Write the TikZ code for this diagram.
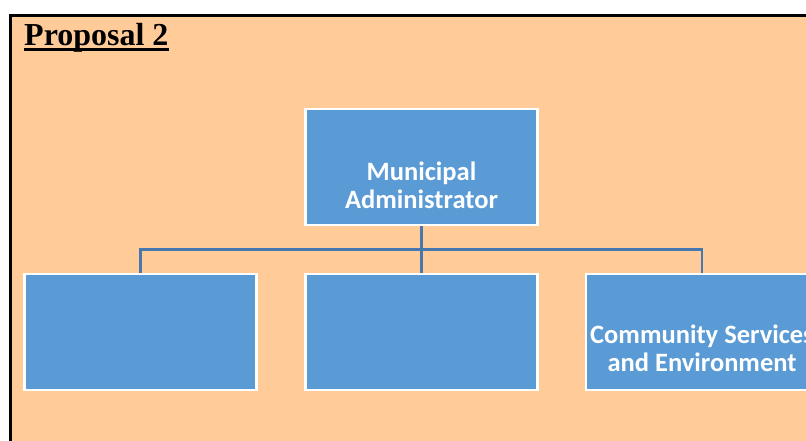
\documentclass[tikz,border=0pt]{standalone}
\usepackage{fontspec}
\setmainfont{Liberation Serif}
\newfontfamily\boxfont{Carlito}
\definecolor{peach}{HTML}{FFCC99}
\definecolor{orgblue}{HTML}{5B9BD5}
\definecolor{linkblue}{HTML}{4677AE}
\tikzset{
  orgbox/.style={rectangle, draw=white, line width=2.5pt, fill=orgblue,
    minimum width=232pt, minimum height=116pt, inner sep=0pt},
  orglabel/.style={text=white, align=center, inner sep=0pt,
    font=\boxfont\bfseries\fontsize{26.5}{28.5}\selectfont},
  link/.style={draw=linkblue, line width=2.8pt}
}
\begin{document}
\begin{tikzpicture}[x=1pt, y=-1pt]
  \useasboundingbox (0,0) rectangle (806,440);
  \clip (0,0) rectangle (806,440);
  \fill[white] (0,0) rectangle (806,440);
  % page frame
  \draw[black, line width=2.6pt, fill=peach] (10.3,15.3) rectangle (830,470);
  % heading
  \node[anchor=base west, inner sep=0pt, font=\bfseries\fontsize{32}{36}\selectfont] (title) at (24,45) {Proposal 2};
  \draw[black, line width=2.8pt] (title.base west) ++(0,4.8) -- ([yshift=-4.8pt]title.base east);
  % connector hub
  \coordinate (hub) at (421.5,249.5);
  % boxes
  \node[orgbox] (mun) at (421.5,167) {};
  \node[orgbox] (b1) at (140.5,332) {};
  \node[orgbox] (b2) at (421.5,332) {};
  \node[orgbox] (b3) at (702,332) {};
  % connectors
  \draw[link] (mun.south) -- (b2.north);
  \draw[link] (b1.north) |- (hub) -| (b3.north);
  \node[orgbox] at (mun) {};
  \node[orgbox] at (b1) {};
  \node[orgbox] at (b2) {};
  \node[orgbox] at (b3) {};
  % labels
  \node[orglabel] (munlabel) at (421.5,185.3) {Municipal\\Administrator};
  \node[orglabel] (b3label) at (702,348.5) {Community Services\\and Environment};
\end{tikzpicture}
\end{document}
